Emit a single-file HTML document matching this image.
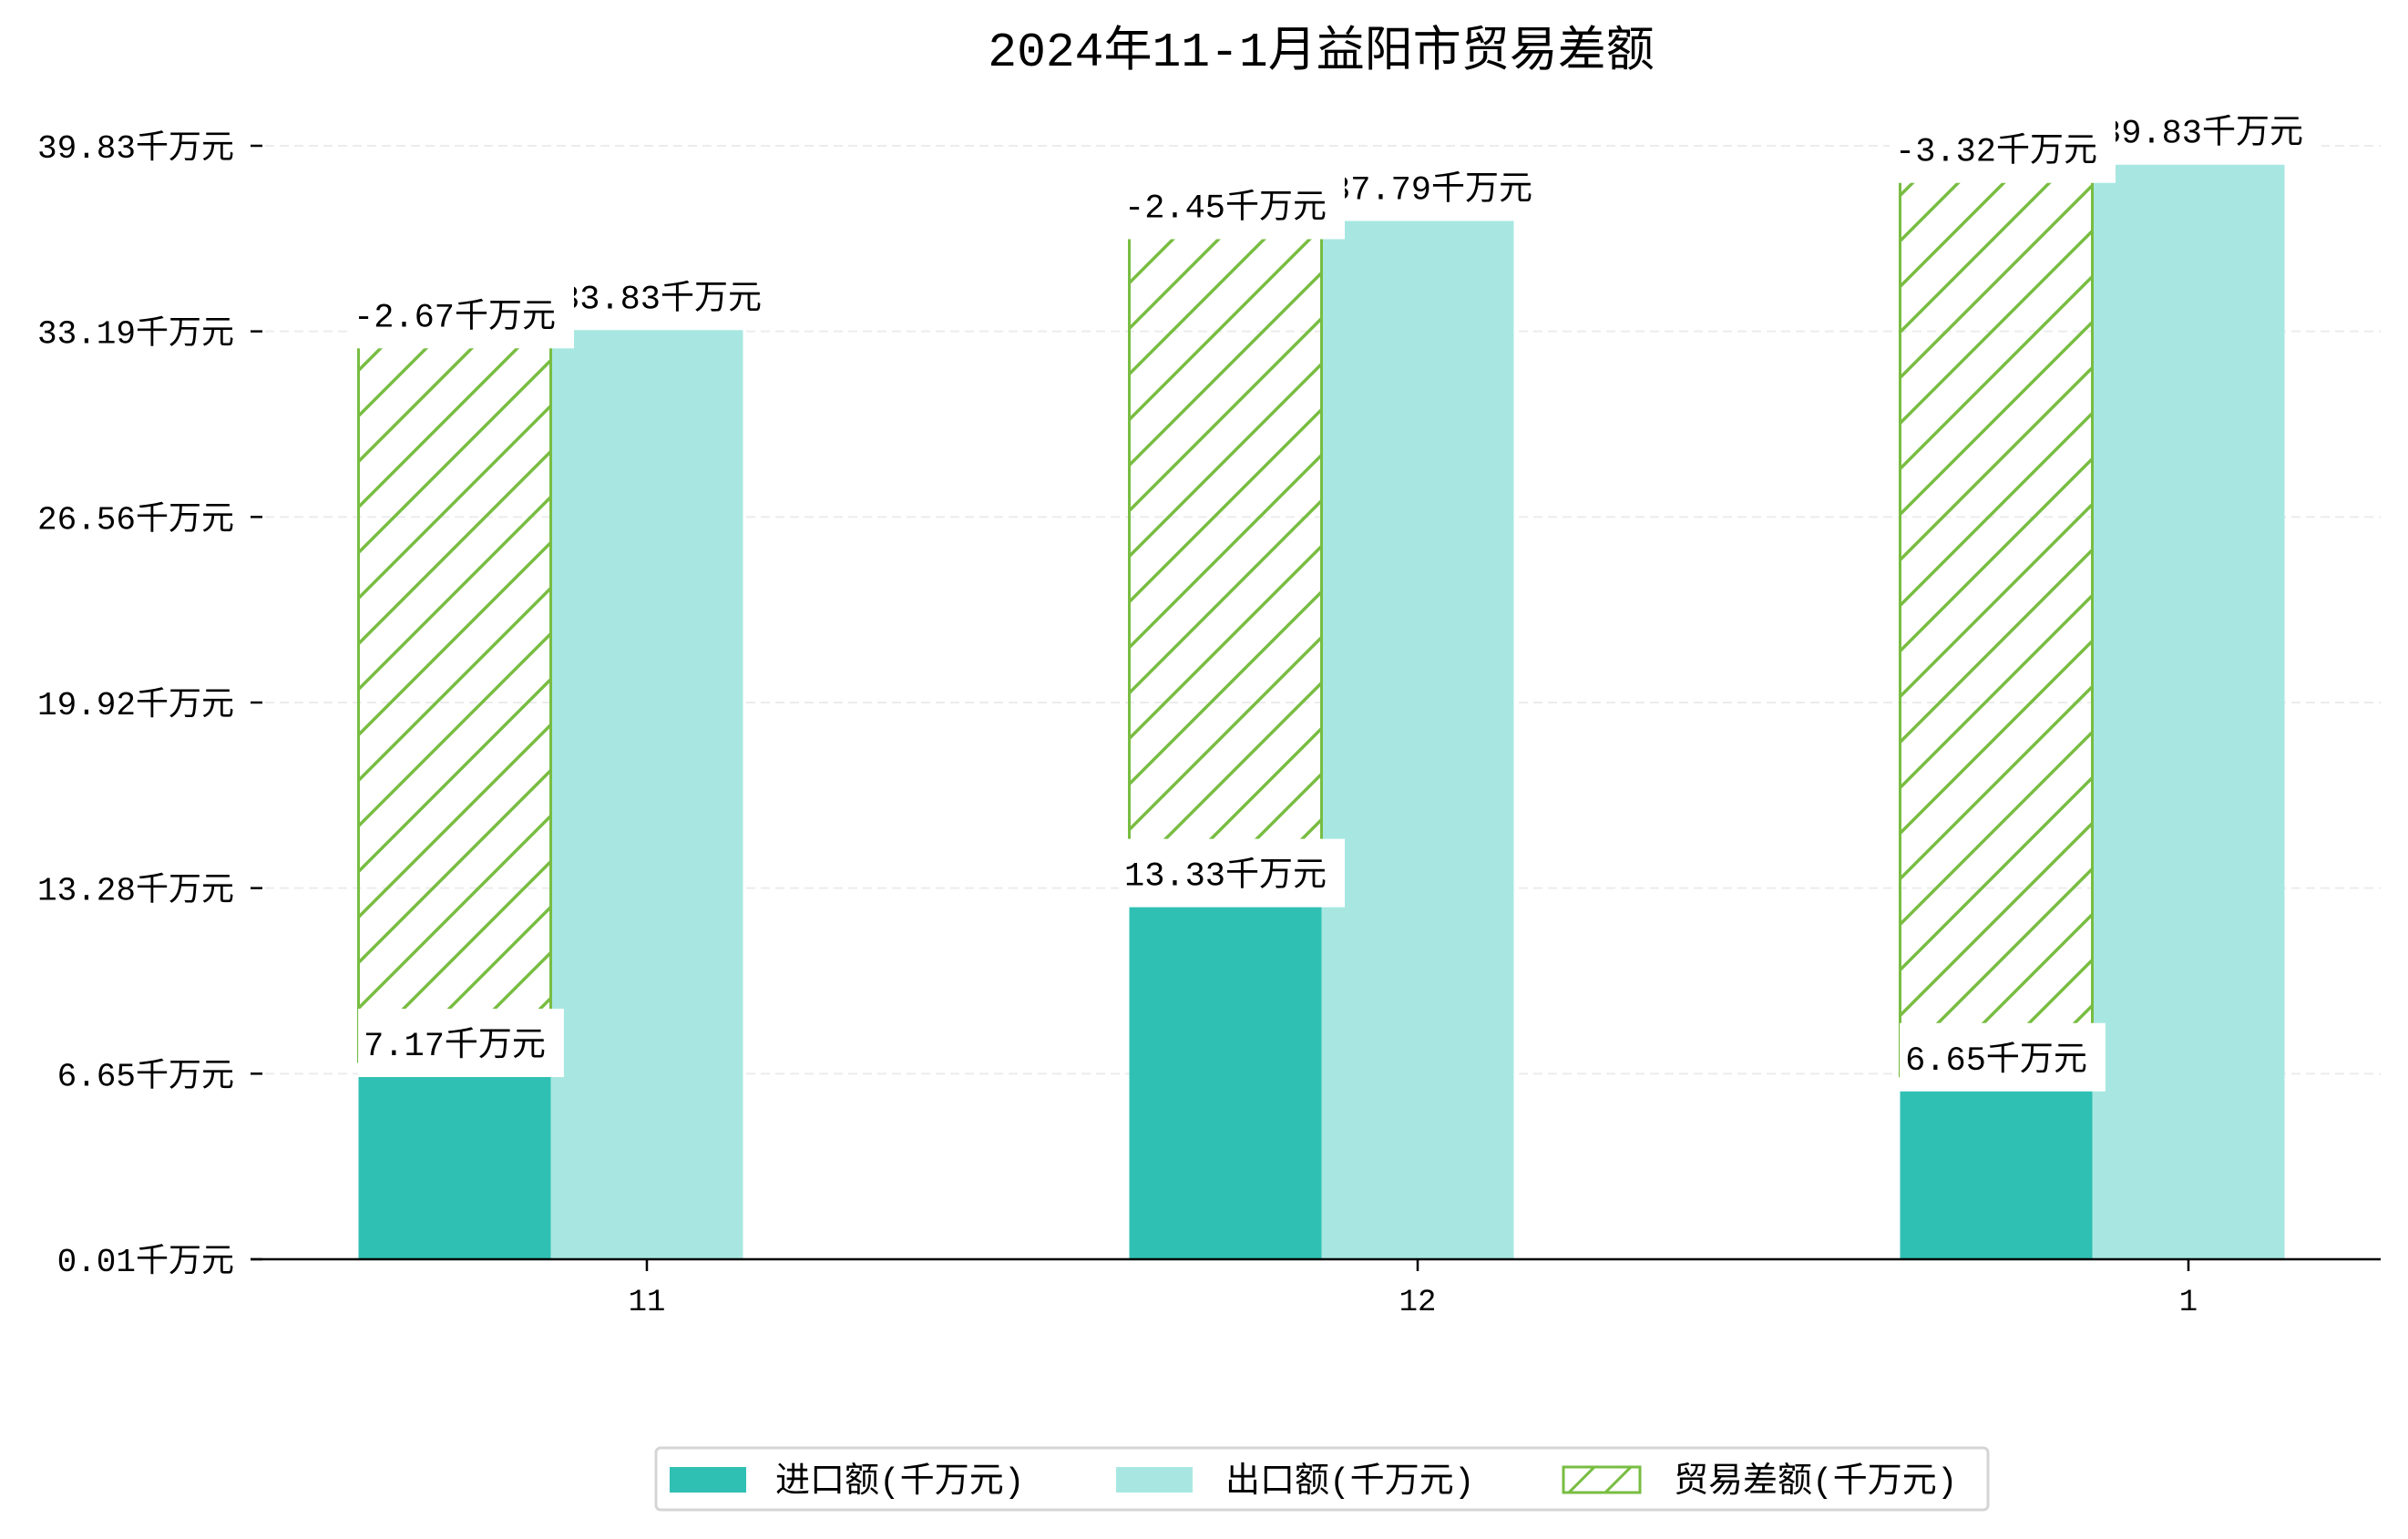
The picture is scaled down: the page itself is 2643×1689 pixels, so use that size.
<!DOCTYPE html>
<html><head><meta charset="utf-8">
<style>
html,body{margin:0;padding:0;background:#fff;}
svg{display:block;font-family:"Liberation Mono","Noto Sans CJK SC",monospace;}
</style></head>
<body>
<svg id="chart" width="2643" height="1689" viewBox="0 0 2643 1689" xmlns="http://www.w3.org/2000/svg">
<defs>
<pattern id="hatch" patternUnits="userSpaceOnUse" width="50" height="50">
<path d="M-5,55 L55,-5 M-30,30 L30,-30 M20,80 L80,20" stroke="#78bd42" stroke-width="3.5" fill="none"/>
</pattern>
<pattern id="hatchLeg" patternUnits="userSpaceOnUse" width="40" height="40">
<path d="M-5,45 L45,-5 M-25,25 L25,-25 M15,65 L65,15" stroke="#78bd42" stroke-width="3" fill="none"/>
</pattern>
</defs>
<text x="1450" y="72" font-size="53" text-anchor="middle" fill="#000">2024年11-1月益阳市贸易差额</text>
<g id="grid"></g>
<g id="bars"></g>
<g id="labels"></g>
<g id="axes"></g>
<g>
<rect x="720" y="1589" width="1462" height="68" rx="5" fill="#fff" stroke="#d5d5d5" stroke-width="3"/>
<rect x="735" y="1610" width="84" height="28" fill="#2fc0b3"/>
<text x="851" y="1637" font-size="38">进口额(千万元)</text>
<rect x="1225" y="1610" width="84" height="28" fill="#a8e7e1"/>
<text x="1345" y="1637" font-size="38">出口额(千万元)</text>
<rect x="1716" y="1610" width="84" height="28" fill="url(#hatchLeg)" stroke="#78bd42" stroke-width="3"/>
<text x="1837" y="1637" font-size="38">贸易差额(千万元)</text>
</g>
</svg>
<script>
const categories = ["11", "12", "1"];
const importVals = [7.17, 13.33, 6.65];
const exportVals = [33.83, 37.79, 39.83];
const balanceVals = [-2.67, -2.45, -3.32];
const yTickLabels = ["0.01", "6.65", "13.28", "19.92", "26.56", "33.19", "39.83"];

const NS = "http://www.w3.org/2000/svg";
const base = 1382, plotL = 275, plotR = 2613, topTick = 160;
const k = 30.26;
const barW = 211;
const FS = 37;
function yScale(v){ return base - v * k; }
function xCenter(i){ return 710 + i * 846; }
function yTick(i){ return base - i * (base - topTick) / (yTickLabels.length - 1); }
function mk(tag, attrs, parent){
  const e = document.createElementNS(NS, tag);
  for (const a in attrs) e.setAttribute(a, attrs[a]);
  parent.appendChild(e);
  return e;
}
const grid = document.getElementById("grid");
const bars = document.getElementById("bars");
const labels = document.getElementById("labels");
const axes = document.getElementById("axes");

yTickLabels.forEach((t, i) => {
  const y = yTick(i);
  if (i > 0) {
    const g = mk("line", {x1: plotL, x2: plotR, y1: y, y2: y, stroke: "#ececec", "stroke-width": 2, "stroke-dasharray": "10,6"}, grid);
    
    
  }
  const tk = mk("line", {x1: plotL, x2: plotL + 13, y1: y, y2: y, stroke: "#000", "stroke-width": 2.5}, axes);
  
  
  const tl = mk("text", {x: 257, y: y + 13, "font-size": 36, "text-anchor": "end"}, axes);
  tl.textContent = t + "千万元";
  
  
});
const ax = mk("line", {x1: plotL, x2: plotR, y1: base, y2: base, stroke: "#000", "stroke-width": 2.5}, axes);



function label(text, cx, cy, name){
  const t = mk("text", {x: cx, y: cy + 13, "font-size": FS, "text-anchor": "middle"}, labels);
  t.textContent = text;
  
  
  let w = 0;
  for (const ch of text) w += ch.charCodeAt(0) > 255 ? FS : FS * 0.6;
  const r = mk("rect", {x: cx - w / 2 - 6, y: cy - 38, width: w + 26, height: 75, fill: "#fff"}, labels);
  
  
  labels.insertBefore(r, t);
}

categories.forEach((c, i) => {
  const xc = xCenter(i);
  const impL = xc - 1.5 * barW, expL = xc - 0.5 * barW;
  const ib = mk("rect", {x: impL, y: yScale(importVals[i]), width: barW, height: base - yScale(importVals[i]), fill: "#2fc0b3"}, bars);
  
  
  const eb = mk("rect", {x: expL, y: yScale(exportVals[i]), width: barW, height: base - yScale(exportVals[i]), fill: "#a8e7e1"}, bars);
  
  
  const hb = mk("rect", {x: impL, y: yScale(exportVals[i]), width: barW, height: yScale(importVals[i]) - yScale(exportVals[i]), fill: "url(#hatch)", stroke: "#78bd42", "stroke-width": 3}, bars);
  
  

  label(exportVals[i].toFixed(2) + "千万元", expL + barW / 2 + 15, yScale(exportVals[i]) - 33, 'export-value-label');
  label(balanceVals[i].toFixed(2) + "千万元", impL + barW / 2, yScale(exportVals[i]) - 13, 'balance-value-label');
  label(importVals[i].toFixed(2) + "千万元", impL + barW / 2, yScale(importVals[i]) - 20, 'import-value-label');

  const tk = mk("line", {x1: xc, x2: xc, y1: base, y2: base + 13, stroke: "#000", "stroke-width": 2.5}, axes);
  
  
  const tl = mk("text", {x: xc, y: base + 56, "font-size": 34, "text-anchor": "middle"}, axes);
  tl.textContent = c;
  
  
});
</script>
</body></html>
